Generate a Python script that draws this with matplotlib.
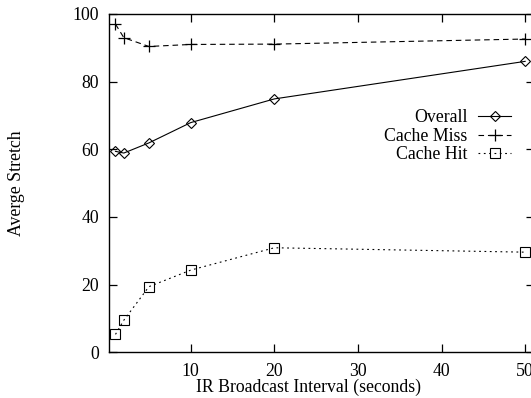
import matplotlib
matplotlib.use("Agg")
import matplotlib.pyplot as plt

plt.rcParams['font.family'] = ['Liberation Serif', 'DejaVu Serif']
plt.rcParams['mathtext.fontset'] = 'stix'

intervals = [1, 2, 5, 10, 20, 50]
overall = [59.4, 58.9, 61.9, 67.9, 74.9, 86.0]
cache_miss = [97.0, 93.0, 90.4, 91.0, 91.1, 92.6]
cache_hit = [5.3, 9.5, 19.4, 24.3, 30.9, 29.6]

x_ticks = [10, 20, 30, 40, 50]
y_ticks = [0, 20, 40, 60, 80, 100]

W, H = 531, 398
fig = plt.figure(figsize=(W / 100, H / 100), dpi=100)
left, right = 108.8, 533.5
bottom, top = 352.3, 14.0
ax = fig.add_axes([left / W, (H - bottom) / H, (right - left) / W, (bottom - top) / H])

lw = 0.8
ax.plot(intervals, overall, color='black', lw=lw, ls='-', marker='D', ms=5.2,
        mfc='none', mec='black', mew=0.8, label='Overall')
ax.plot(intervals, cache_miss, color='black', lw=lw, ls=(0, (5, 3.5)), marker='+', ms=8,
        mew=0.9, label='Cache Miss')
ax.plot(intervals, cache_hit, color='black', lw=lw, ls=(0, (1.6, 3.2)), marker='s', ms=6.5,
        mfc='none', mec='black', mew=0.8, label='Cache Hit')

ax.set_xlim(0.2, 51)
ax.set_ylim(0, 100)
ax.set_xticks(x_ticks)
ax.set_yticks(y_ticks)
ax.tick_params(direction='in', length=6, width=0.9, top=True, right=True,
               labelsize=12.8, colors='black')
ax.tick_params(axis='x', pad=7.5)
ax.tick_params(axis='y', pad=7)
for s in ax.spines.values():
    s.set_linewidth(1.0)

ax.set_xlabel('IR Broadcast Interval (seconds)', fontsize=12.8)
ax.set_ylabel('Averge Stretch', fontsize=12.8)
ax.xaxis.set_label_coords((309 - left) / (right - left), -(378.5 - bottom) / (bottom - top))
ax.yaxis.set_label_coords(-(left - 25.5) / (right - left), 0.5)

leg = ax.legend(loc='upper right', bbox_to_anchor=((511 - left) / (right - left), (bottom - 109.5) / (bottom - top)),
                markerfirst=False, frameon=False, fontsize=12.8, handlelength=1.85,
                handletextpad=0.6, labelspacing=0.08, borderpad=0, borderaxespad=0)

fig.savefig('out.png', dpi=100)
